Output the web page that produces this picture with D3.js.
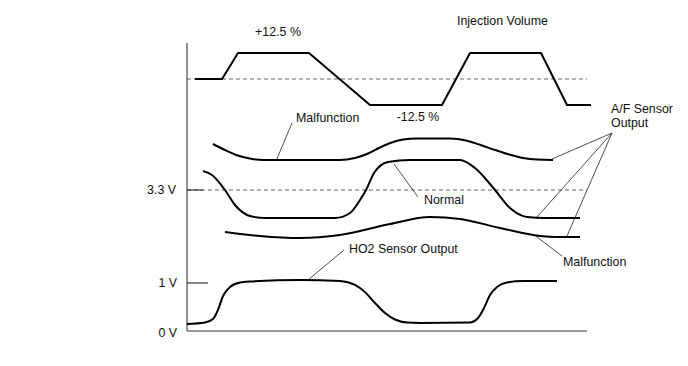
<!DOCTYPE html>
<html>
<head>
<meta charset="utf-8">
<script src="https://cdn.jsdelivr.net/npm/d3@7"></script>
<style>
  body { margin: 0; background: #fff; }
  text { font-family: "Liberation Sans", Arial, sans-serif; font-size: 12.4px; fill: #111; }
</style>
</head>
<body>
<div id="chart"></div>
<script>
// Size of the drawing
const width = 688;
const height = 366;

// Time runs 0..100 along the bottom axis
// Injection volume (% change), sharp ramps
const injTime  = [2, 8.75, 12.75, 30.5, 45.75, 63.75, 70.75, 88.5, 95, 101];
const injValue = [0, 0, 12.5, 12.5, -12.5, -12.5, 12.5, 12.5, -12.5, -12.5];

// A/F sensor output (V), normal sensor
const afNormalTime  = [4, 6.25, 9.5, 12, 15.75, 19.5, 37, 40.75, 43.25, 44.75, 46.75, 50.25, 55.75, 68.25, 72, 77, 80.75, 85, 89.5, 98.25];
const afNormalValue = [3.775, 3.675, 3.3, 2.925, 2.65, 2.6, 2.6, 2.725, 3.05, 3.3, 3.725, 4.0, 4.05, 4.05, 3.85, 3.3, 2.85, 2.625, 2.6, 2.6];

// A/F sensor output (V), malfunction reading high
const afHighTime  = [6.5, 9.5, 12.5, 16, 19, 38.25, 42, 45, 48, 51, 54, 57.5, 65.75, 70, 73.25, 77, 80.75, 84, 87.5, 91.5];
const afHighValue = [4.45, 4.3, 4.17, 4.08, 4.05, 4.05, 4.1, 4.2, 4.35, 4.48, 4.56, 4.59, 4.59, 4.53, 4.43, 4.3, 4.18, 4.1, 4.06, 4.05];

// A/F sensor output (V), malfunction reading low
const afLowTime  = [9.5, 18.25, 28.25, 38.25, 50.75, 60.75, 68.25, 78.25, 88.25, 92.5, 98.25];
const afLowValue = [2.25, 2.15, 2.1, 2.175, 2.45, 2.625, 2.575, 2.35, 2.15, 2.125, 2.125];

// HO2 sensor output (V)
const ho2Time  = [0, 4.5, 6.5, 7.75, 9, 10.75, 13.25, 15.75, 28.25, 38.25, 42, 44.5, 47, 49.5, 52, 55, 58.25, 70.75, 72.75, 74.25, 75.75, 77.5, 80, 84, 92.5];
const ho2Value = [0.146, 0.177, 0.25, 0.44, 0.73, 0.917, 1.01, 1.03, 1.06, 1.04, 0.96, 0.81, 0.583, 0.375, 0.24, 0.177, 0.167, 0.177, 0.27, 0.48, 0.75, 0.917, 1.01, 1.04, 1.04];

// Voltage ticks on the left
const afTicks  = [3.3];
const ho2Ticks = [0, 1];

const svg = d3.select("#chart")
    .append("svg")
    .attr("width", width)
    .attr("height", height);

// scales
const x = d3.scaleLinear().domain([0, 100]).range([187, 587]);
const yInj = d3.scaleLinear().domain([-12.5, 12.5]).range([105, 53]);
const yAf  = d3.scaleLinear().domain([3.3, 4.3]).range([190, 150]);
const yHo2 = d3.scaleLinear().domain([0, 1]).range([331, 283]);

function zip(ts, vs) {
    return ts.map(function(t, i) { return [t, vs[i]]; });
}

// dashed reference lines
svg.append("line")
    .attr("x1", x(0)).attr("x2", x(100))
    .attr("y1", yInj(0)).attr("y2", yInj(0))
    .attr("stroke", "#666").attr("stroke-width", 1)
    .attr("stroke-dasharray", "4,3");

svg.append("line")
    .attr("x1", x(0)).attr("x2", x(100))
    .attr("y1", yAf(3.3)).attr("y2", yAf(3.3))
    .attr("stroke", "#666").attr("stroke-width", 1)
    .attr("stroke-dasharray", "4,3");

// axes (plain lines, no ticks)
svg.append("line")
    .attr("x1", x(0)).attr("x2", x(0))
    .attr("y1", 43).attr("y2", yHo2(0))
    .attr("stroke", "#555").attr("stroke-width", 1.3);

svg.append("line")
    .attr("x1", x(0)).attr("x2", x(100))
    .attr("y1", yHo2(0)).attr("y2", yHo2(0))
    .attr("stroke", "#777").attr("stroke-width", 1.3);

// tick marks + labels
svg.selectAll("line.af-tick")
    .data(afTicks)
    .join("line")
    .attr("class", "af-tick")
    .attr("x1", x(0)).attr("x2", x(4))
    .attr("y1", function(d) { return yAf(d); })
    .attr("y2", function(d) { return yAf(d); })
    .attr("stroke", "#111").attr("stroke-width", 1);

svg.selectAll("line.ho2-tick")
    .data(ho2Ticks.filter(function(d) { return d > 0; }))
    .join("line")
    .attr("class", "ho2-tick")
    .attr("x1", x(0)).attr("x2", x(5.25))
    .attr("y1", function(d) { return yHo2(d); })
    .attr("y2", function(d) { return yHo2(d); })
    .attr("stroke", "#111").attr("stroke-width", 1);

svg.selectAll("text.af-label")
    .data(afTicks)
    .join("text")
    .attr("class", "af-label")
    .attr("x", 176)
    .attr("y", function(d) { return yAf(d); })
    .attr("dy", "0.35em")
    .attr("text-anchor", "end")
    .text(function(d) { return d + " V"; });

svg.selectAll("text.ho2-label")
    .data(ho2Ticks)
    .join("text")
    .attr("class", "ho2-label")
    .attr("x", 177)
    .attr("y", function(d) { return yHo2(d) + (d === 0 ? 2 : 0); })
    .attr("dy", "0.35em")
    .attr("text-anchor", "end")
    .text(function(d) { return d + " V"; });

// the signal curves
const injLine = d3.line()
    .x(function(d) { return x(d[0]); })
    .y(function(d) { return yInj(d[1]); });

const afLine = d3.line()
    .curve(d3.curveMonotoneX)
    .x(function(d) { return x(d[0]); })
    .y(function(d) { return yAf(d[1]); });

const ho2Line = d3.line()
    .curve(d3.curveMonotoneX)
    .x(function(d) { return x(d[0]); })
    .y(function(d) { return yHo2(d[1]); });

const curves = svg.append("g")
    .attr("fill", "none")
    .attr("stroke", "#000")
    .attr("stroke-width", 2)
    .attr("stroke-linejoin", "round");

curves.append("path").attr("d", injLine(zip(injTime, injValue)));
curves.append("path").attr("d", afLine(zip(afHighTime, afHighValue)));
curves.append("path").attr("d", afLine(zip(afNormalTime, afNormalValue)));
curves.append("path").attr("d", afLine(zip(afLowTime, afLowValue)));
curves.append("path").attr("d", ho2Line(zip(ho2Time, ho2Value)));

// leader lines for the callouts
const leaders = [
    [292, 123, 276, 161],   // Malfunction (upper)
    [418, 197, 394, 164],   // Normal
    [344, 250, 308, 280],   // HO2 Sensor Output
    [562, 256, 533, 234],   // Malfunction (lower)
    [612, 133, 552, 159],   // A/F -> high
    [612, 133, 537, 217],   // A/F -> normal
    [612, 133, 567, 236]    // A/F -> low
];

svg.append("g")
    .selectAll("line")
    .data(leaders)
    .join("line")
    .attr("x1", function(d) { return d[0]; })
    .attr("y1", function(d) { return d[1]; })
    .attr("x2", function(d) { return d[2]; })
    .attr("y2", function(d) { return d[3]; })
    .attr("stroke", "#222")
    .attr("stroke-width", 0.8);

// text labels
const labels = [
    ["+12.5 %", 278, 32, "middle"],
    ["Injection Volume", 457, 21, "start"],
    ["-12.5 %", 418, 117, "middle"],
    ["Malfunction", 296, 118, "start"],
    ["Normal", 424, 200, "start"],
    ["HO2 Sensor Output", 349, 249, "start"],
    ["Malfunction", 563, 262, "start"],
    ["A/F Sensor", 611, 109, "start"],
    ["Output", 611, 123, "start"]
];

svg.append("g")
    .selectAll("text")
    .data(labels)
    .join("text")
    .attr("x", function(d) { return d[1]; })
    .attr("y", function(d) { return d[2]; })
    .attr("dy", "0.35em")
    .attr("text-anchor", function(d) { return d[3]; })
    .text(function(d) { return d[0]; });
</script>
</body>
</html>
